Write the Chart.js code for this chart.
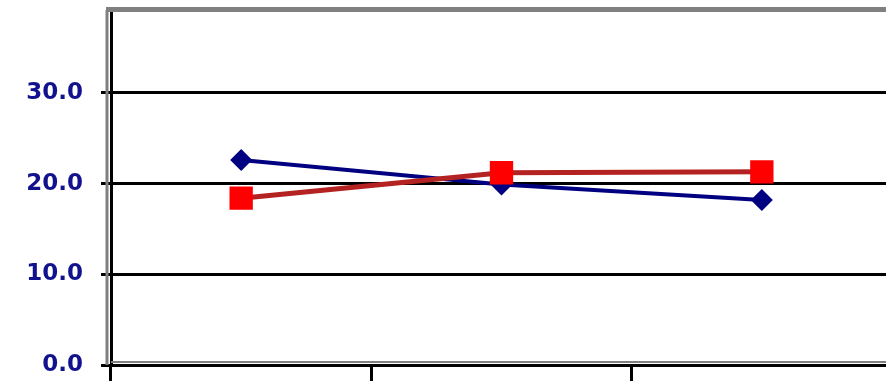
<!DOCTYPE html>
<html>
<head>
<meta charset="utf-8">
<script src="https://cdn.jsdelivr.net/npm/chart.js@4.4.0/dist/chart.umd.min.js"></script>
<style>
  html, body { margin:0; padding:0; background:#fff; overflow:hidden; }
  #wrap { width:892px; height:381px; }
</style>
</head>
<body>
<div id="wrap"><canvas id="chart"></canvas></div>
<script>
// three categories, labels fall below the visible crop
const categories = ['', '', ''];
const blueValues = [22.6, 19.9, 18.2];
const redValues = [18.4, 21.2, 21.3];
const yTicks = [0, 10, 20, 30];

// gray shadow lines of the old excel frame
const framePlugin = {
  id: 'frame',
  afterDraw(chart) {
    const {ctx, chartArea} = chart;
    ctx.save();
    ctx.strokeStyle = '#808080';
    ctx.lineWidth = 5;
    ctx.beginPath();
    ctx.moveTo(chartArea.left - 5, chartArea.top - 0.5);
    ctx.lineTo(chartArea.right + 10, chartArea.top - 0.5);
    ctx.stroke();
    ctx.lineWidth = 3;
    ctx.beginPath();
    ctx.moveTo(chartArea.left - 4, chartArea.top);
    ctx.lineTo(chartArea.left - 4, chartArea.bottom);
    ctx.stroke();
    ctx.lineWidth = 2;
    ctx.beginPath();
    ctx.moveTo(chartArea.left, chartArea.bottom - 3);
    ctx.lineTo(chartArea.right + 10, chartArea.bottom - 3);
    ctx.stroke();
    ctx.restore();
  }
};

new Chart(
  document.getElementById('chart'),
  {
    type: 'line',
    data: {
      labels: categories,
      datasets: [
        {
          label: 'Red',
          data: redValues,
          borderColor: '#b42222',
          backgroundColor: '#ff0000',
          borderWidth: 5,
          pointStyle: 'rect',
          pointRadius: 16.5,
          pointBorderWidth: 0,
          pointBackgroundColor: '#ff0000',
          tension: 0
        },
        {
          label: 'Blue',
          data: blueValues,
          borderColor: '#000080',
          backgroundColor: '#000080',
          borderWidth: 4,
          pointStyle: 'rectRot',
          pointRadius: 11,
          pointBorderWidth: 0,
          pointBackgroundColor: '#000080',
          tension: 0
        }
      ]
    },
    options: {
      responsive: true,
      maintainAspectRatio: false,
      animation: false,
      layout: { autoPadding: false, padding: { top: 10, right: 0, left: 0, bottom: 0 } },
      plugins: {
        legend: { display: false },
        tooltip: { enabled: false }
      },
      scales: {
        x: {
          type: 'category',
          offset: true,
          grid: {
            offset: true,
            drawOnChartArea: false,
            drawTicks: true,
            tickLength: 16,
            color: '#000',
            lineWidth: 3
          },
          border: { display: true, color: '#000', width: 3 },
          ticks: { display: false },
          afterFit: (scale) => {
            scale.height = 16;
            scale.paddingLeft = 0;
            scale.paddingRight = 0;
          }
        },
        y: {
          min: 0,
          max: 39.15,
          afterBuildTicks: (scale) => {
            scale.ticks = yTicks.map(v => ({ value: v }));
          },
          grid: {
            color: '#000',
            lineWidth: 3,
            drawTicks: true,
            tickLength: 10
          },
          border: { display: true, color: '#000', width: 3 },
          ticks: {
            padding: 18,
            color: '#12128e',
            font: { family: 'DejaVu Sans', size: 23, weight: 'bold' },
            callback: (v) => Number(v).toFixed(1)
          },
          afterFit: (scale) => {
            scale.width = 111;
            scale.paddingTop = 0;
            scale.paddingBottom = 0;
          }
        }
      }
    },
    plugins: [framePlugin]
  }
);
</script>
</body>
</html>
